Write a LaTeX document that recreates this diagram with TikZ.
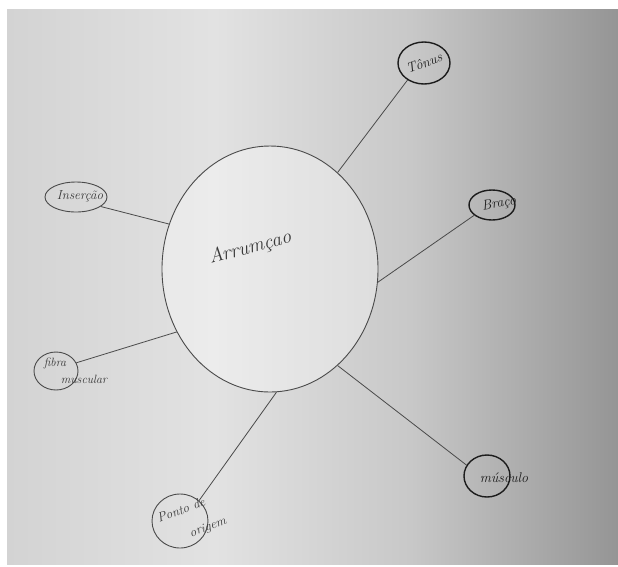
\documentclass[tikz,border=0pt]{standalone}
\usetikzlibrary{shapes.geometric}
\definecolor{ink}{HTML}{4a4a4a}
\definecolor{textink}{HTML}{383838}
\definecolor{darkink}{HTML}{1c1c1c}
\definecolor{p1}{HTML}{D3D3D3}
\definecolor{p2}{HTML}{E2E2E2}
\definecolor{p3}{HTML}{C8C8C8}
\definecolor{p4}{HTML}{959595}
\pgfdeclarehorizontalshading{paper}{100bp}{color(0bp)=(p1); color(25bp)=(p1); color(42bp)=(p2); color(58bp)=(p3); color(75bp)=(p4); color(100bp)=(p4)}
\begin{document}
\begin{tikzpicture}[x=1pt,y=-1pt,
  hand/.style={font=\itshape\fontsize{14}{15}\selectfont, text=textink, inner sep=0pt},
  bub/.style={draw=ink, line width=0.9pt, ellipse, inner sep=0pt},
  dark/.style={draw=darkink, line width=1.4pt},
  link/.style={draw=ink, line width=0.8pt}]
\useasboundingbox (0,0) rectangle (618,566);
\fill[white] (0,0) rectangle (618,566);
\shade[shading=paper] (7,9) rectangle (618,564);
% central
\node[bub, minimum width=216pt, minimum height=246pt, fill=white, fill opacity=0.35] (c) at (270,269) {};
\node[hand, font=\itshape\fontsize{20}{22}\selectfont, rotate=15] (ct) at (250,248) {Arrumçao};
% bubbles
\node[bub, dark, minimum width=52pt, minimum height=42pt] (tonus) at (424,63) {};
\node[hand, text=darkink, rotate=20] (tonust) at (424,63) {Tônus};
\node[bub, dark, minimum width=46pt, minimum height=30pt] (braco) at (492,205) {};
\node[hand, text=darkink, rotate=10] (bracot) at (499,204) {Braço};
\node[bub, minimum width=62pt, minimum height=30pt] (ins) at (76,197) {};
\node[hand, font=\itshape\fontsize{13}{14}\selectfont] (inst) at (80,196) {Inserção};
\node[bub, minimum width=44pt, minimum height=38pt] (fib) at (56,371) {};
\node[hand, font=\itshape\fontsize{12}{13}\selectfont] (fibt1) at (55,363) {fibra};
\node[hand, font=\itshape\fontsize{12}{13}\selectfont] (fibt2) at (84,379) {muscular};
\node[bub, minimum width=56pt, minimum height=54pt] (pon) at (180,521) {};
\node[hand, rotate=20, font=\itshape\fontsize{13}{14}\selectfont] (pont1) at (181,510) {Ponto de};
\node[hand, rotate=20, font=\itshape\fontsize{13}{14}\selectfont] (pont2) at (208,528) {origem};
\node[bub, dark, minimum width=46pt, minimum height=42pt] (mus) at (487,476) {};
\node[hand, text=darkink] (must) at (504,478) {músculo};
% connectors
\draw[link] (c.55) -- (tonus.226);
\draw[link] (c.-7) -- (braco.210);
\draw[link] (c.156) -- (ins.-21);
\draw[link] (c.214) -- (fib.22);
\draw[link] (c.273) -- (pon.47);
\draw[link] (c.305) -- (mus.152);
\end{tikzpicture}
\end{document}
